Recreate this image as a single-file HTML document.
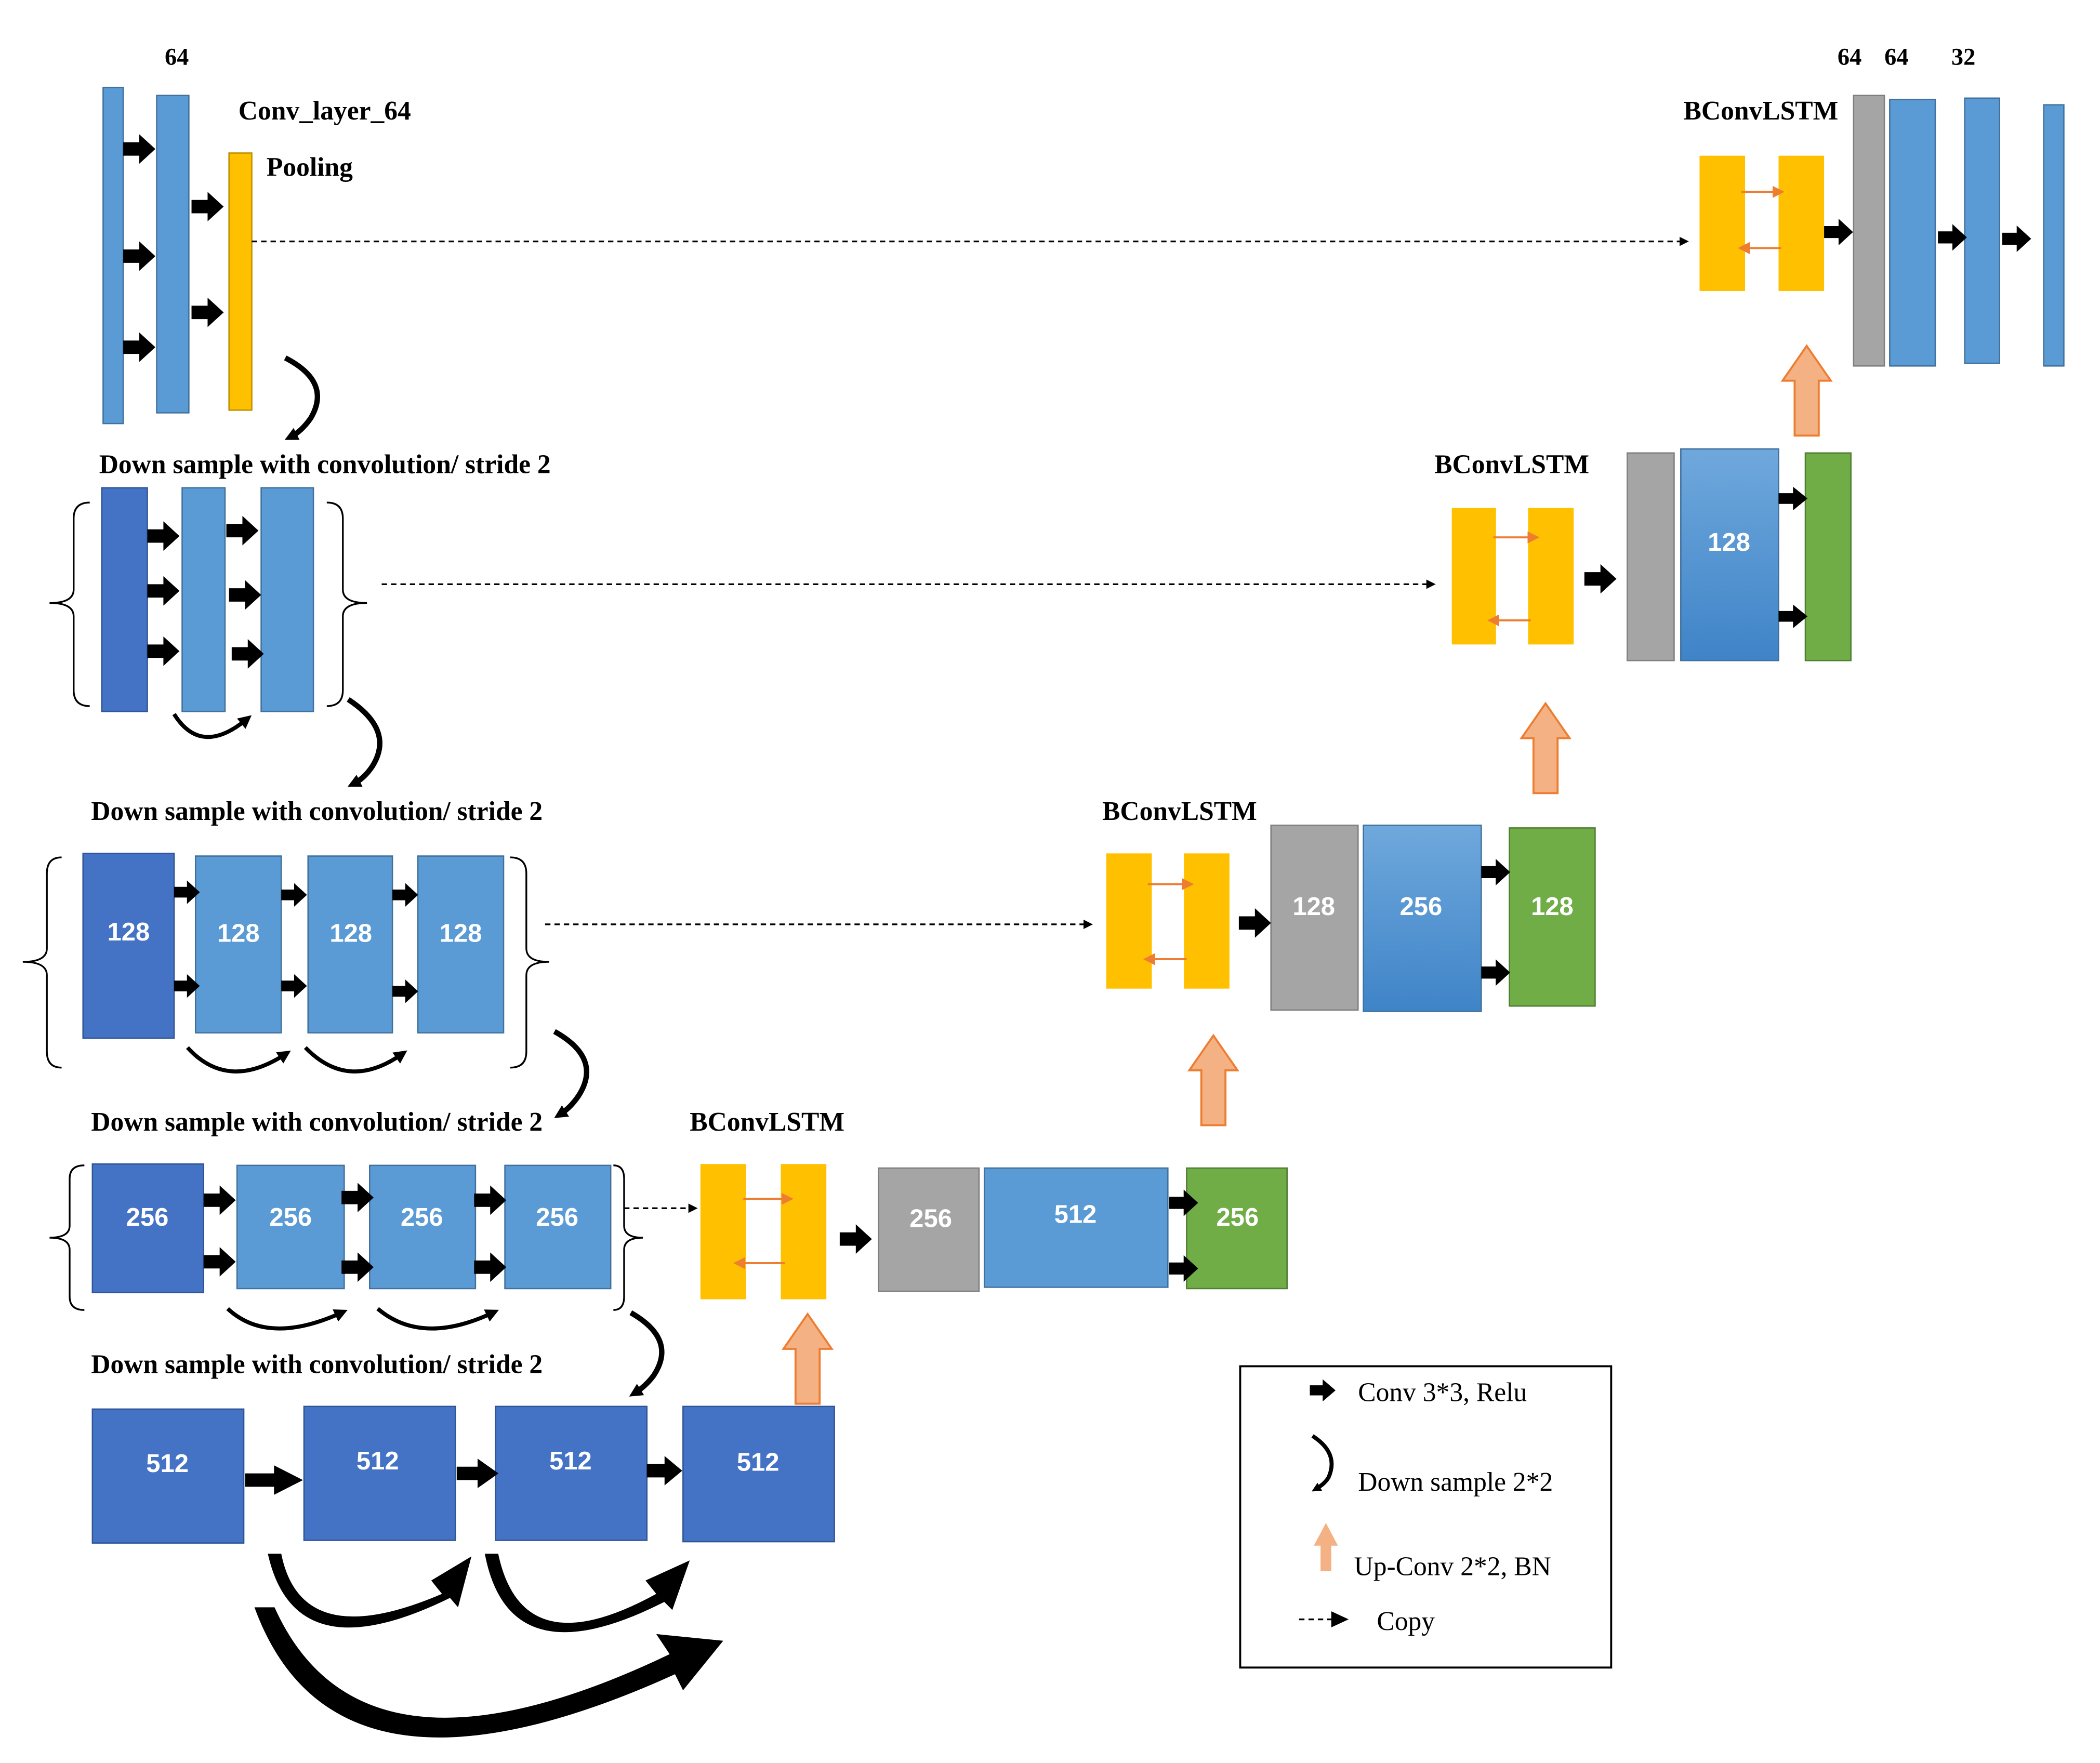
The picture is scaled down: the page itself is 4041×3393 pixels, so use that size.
<!DOCTYPE html>
<html><head><meta charset="utf-8"><style>html,body{margin:0;padding:0;background:#fff}svg{display:block}</style></head>
<body>
<svg width="4041" height="3393" viewBox="0 0 1568 1316" xmlns="http://www.w3.org/2000/svg" font-family="Liberation Serif, serif">
<defs>
<path id="ar" d="M0,-5 H12 V-11 L24,0 L12,11 V5 H0 Z" fill="#000"/>
<path id="up" d="M-9,67 V26 H-18 L0,0 L18,26 H9 V67 Z" fill="#F4B183" stroke="#ED7D31" stroke-width="1.5"/>
<marker id="mh" markerUnits="userSpaceOnUse" markerWidth="10" markerHeight="10" refX="5" refY="5" orient="auto"><path d="M0,0 L10,5 L0,10 Z" fill="#000"/></marker>
<marker id="ms" markerUnits="userSpaceOnUse" markerWidth="7" markerHeight="7" refX="4" refY="3.5" orient="auto"><path d="M0,0 L7,3.5 L0,7 Z" fill="#000"/></marker>
<marker id="mo" markerWidth="6" markerHeight="6" refX="3" refY="3" orient="auto"><path d="M0,0 L6,3 L0,6 Z" fill="#ED7D31"/></marker>
<linearGradient id="bg" x1="0" y1="0" x2="0" y2="1"><stop offset="0" stop-color="#6FA8DC"/><stop offset="1" stop-color="#3F84C8"/></linearGradient>
</defs>
<rect width="1568" height="1316" fill="#fff"/>
<g font-weight="bold" font-size="20" fill="#000">
<text x="123" y="48" font-size="18">64</text>
<text x="178" y="89">Conv_layer_64</text>
<text x="199" y="131">Pooling</text>
<text x="1257" y="89">BConvLSTM</text>
<text x="1372" y="48" font-size="18">64</text><text x="1407" y="48" font-size="18">64</text><text x="1457" y="48" font-size="18">32</text>
<text x="74" y="353">Down sample with convolution/ stride 2</text>
<text x="1071" y="353">BConvLSTM</text>
<text x="68" y="612">Down sample with convolution/ stride 2</text>
<text x="823" y="612">BConvLSTM</text>
<text x="68" y="844">Down sample with convolution/ stride 2</text>
<text x="515" y="844">BConvLSTM</text>
<text x="68" y="1025">Down sample with convolution/ stride 2</text>
</g>
<g stroke="#41719C" stroke-width="1">
<rect x="77" y="65" width="15" height="251" fill="#5B9BD5"/>
<rect x="117" y="71" width="24" height="237" fill="#5B9BD5"/>
<rect x="171" y="114" width="17" height="192" fill="#FFC000" stroke="#BF9000"/>
<rect x="1269" y="116" width="34" height="101" fill="#FFC000" stroke="none"/>
<rect x="1328" y="116" width="34" height="101" fill="#FFC000" stroke="none"/>
<rect x="1384" y="71" width="23" height="202" fill="#A5A5A5" stroke="#7F7F7F"/>
<rect x="1411" y="74" width="34" height="199" fill="#5B9BD5"/>
<rect x="1467" y="73" width="26" height="198" fill="#5B9BD5"/>
<rect x="1526" y="78" width="15" height="195" fill="#5B9BD5"/>
<rect x="76" y="364" width="34" height="167" fill="#4472C4" stroke="#2F5597"/>
<rect x="136" y="364" width="32" height="167" fill="#5B9BD5"/>
<rect x="195" y="364" width="39" height="167" fill="#5B9BD5"/>
<rect x="1084" y="379" width="33" height="102" fill="#FFC000" stroke="none"/>
<rect x="1141" y="379" width="34" height="102" fill="#FFC000" stroke="none"/>
<rect x="1215" y="338" width="35" height="155" fill="#A5A5A5" stroke="#7F7F7F"/>
<rect x="1255" y="335" width="73" height="158" fill="url(#bg)"/>
<rect x="1348" y="338" width="34" height="155" fill="#70AD47" stroke="#507E32"/>
<rect x="62" y="637" width="68" height="138" fill="#4472C4" stroke="#2F5597"/>
<rect x="146" y="639" width="64" height="132" fill="#5B9BD5"/>
<rect x="230" y="639" width="63" height="132" fill="#5B9BD5"/>
<rect x="312" y="639" width="64" height="132" fill="#5B9BD5"/>
<rect x="826" y="637" width="34" height="101" fill="#FFC000" stroke="none"/>
<rect x="884" y="637" width="34" height="101" fill="#FFC000" stroke="none"/>
<rect x="949" y="616" width="65" height="138" fill="#A5A5A5" stroke="#7F7F7F"/>
<rect x="1018" y="616" width="88" height="139" fill="url(#bg)"/>
<rect x="1127" y="618" width="64" height="133" fill="#70AD47" stroke="#507E32"/>
<rect x="69" y="869" width="83" height="96" fill="#4472C4" stroke="#2F5597"/>
<rect x="177" y="870" width="80" height="92" fill="#5B9BD5"/>
<rect x="276" y="870" width="79" height="92" fill="#5B9BD5"/>
<rect x="377" y="870" width="79" height="92" fill="#5B9BD5"/>
<rect x="523" y="869" width="34" height="101" fill="#FFC000" stroke="none"/>
<rect x="583" y="869" width="34" height="101" fill="#FFC000" stroke="none"/>
<rect x="656" y="872" width="75" height="92" fill="#A5A5A5" stroke="#7F7F7F"/>
<rect x="735" y="872" width="137" height="89" fill="#5B9BD5"/>
<rect x="886" y="872" width="75" height="90" fill="#70AD47" stroke="#507E32"/>
<rect x="69" y="1052" width="113" height="100" fill="#4472C4" stroke="#2F5597"/>
<rect x="227" y="1050" width="113" height="100" fill="#4472C4" stroke="#2F5597"/>
<rect x="370" y="1050" width="113" height="100" fill="#4472C4" stroke="#2F5597"/>
<rect x="510" y="1050" width="113" height="101" fill="#4472C4" stroke="#2F5597"/>
</g>
<g font-family="Liberation Sans, sans-serif" font-weight="bold" font-size="19" fill="#fff" text-anchor="middle">
<text x="1291" y="411">128</text>
<text x="96" y="702">128</text><text x="178" y="703">128</text><text x="262" y="703">128</text><text x="344" y="703">128</text>
<text x="981" y="683">128</text><text x="1061" y="683">256</text><text x="1159" y="683">128</text>
<text x="110" y="915">256</text><text x="217" y="915">256</text><text x="315" y="915">256</text><text x="416" y="915">256</text>
<text x="695" y="916">256</text><text x="803" y="913">512</text><text x="924" y="915">256</text>
<text x="125" y="1099">512</text><text x="282" y="1097">512</text><text x="426" y="1097">512</text><text x="566" y="1098">512</text>
</g>
<use href="#ar" transform="translate(92,111)"/><use href="#ar" transform="translate(92,191)"/><use href="#ar" transform="translate(92,259)"/>
<use href="#ar" transform="translate(143,154)"/><use href="#ar" transform="translate(143,233)"/>
<use href="#ar" transform="translate(1362,173) scale(0.9,0.9)"/>
<use href="#ar" transform="translate(1447,177) scale(0.9,0.9)"/><use href="#ar" transform="translate(1495,178) scale(0.9,0.9)"/>
<use href="#ar" transform="translate(110,400)"/><use href="#ar" transform="translate(110,441)"/><use href="#ar" transform="translate(110,486)"/>
<use href="#ar" transform="translate(169,396)"/><use href="#ar" transform="translate(171,444)"/><use href="#ar" transform="translate(173,488)"/>
<use href="#ar" transform="translate(1183,432)"/>
<use href="#ar" transform="translate(1328,372) scale(0.9,0.8)"/><use href="#ar" transform="translate(1328,460) scale(0.9,0.8)"/>
<use href="#ar" transform="translate(130,666) scale(0.8,0.8)"/><use href="#ar" transform="translate(130,736) scale(0.8,0.8)"/>
<use href="#ar" transform="translate(210,668) scale(0.8,0.8)"/><use href="#ar" transform="translate(210,736) scale(0.8,0.8)"/>
<use href="#ar" transform="translate(293,668) scale(0.8,0.8)"/><use href="#ar" transform="translate(293,740) scale(0.8,0.8)"/>
<use href="#ar" transform="translate(925,689)"/>
<use href="#ar" transform="translate(1106,651) scale(0.9,0.9)"/><use href="#ar" transform="translate(1106,726) scale(0.9,0.9)"/>
<use href="#ar" transform="translate(152,896)"/><use href="#ar" transform="translate(152,942)"/>
<use href="#ar" transform="translate(255,894)"/><use href="#ar" transform="translate(255,946)"/>
<use href="#ar" transform="translate(354,896)"/><use href="#ar" transform="translate(354,946)"/>
<use href="#ar" transform="translate(627,925)"/>
<use href="#ar" transform="translate(873,898) scale(0.9,0.9)"/><use href="#ar" transform="translate(873,947) scale(0.9,0.9)"/>
<use href="#ar" transform="translate(183,1105) scale(1.8,1)"/>
<use href="#ar" transform="translate(341,1100) scale(1.3,1)"/>
<use href="#ar" transform="translate(483,1098) scale(1.1,1)"/>
<use href="#up" transform="translate(1349,258)"/>
<use href="#up" transform="translate(1154,525)"/>
<use href="#up" transform="translate(906,773)"/>
<use href="#up" transform="translate(603,981)"/>
<g stroke="#ED7D31" stroke-width="1.5">
<line x1="1300" y1="143" x2="1328" y2="143" marker-end="url(#mo)"/><line x1="1330" y1="185" x2="1302" y2="185" marker-end="url(#mo)"/>
<line x1="1115" y1="401" x2="1145" y2="401" marker-end="url(#mo)"/><line x1="1143" y1="463" x2="1115" y2="463" marker-end="url(#mo)"/>
<line x1="857" y1="660" x2="887" y2="660" marker-end="url(#mo)"/><line x1="886" y1="716" x2="858" y2="716" marker-end="url(#mo)"/>
<line x1="555" y1="895" x2="588" y2="895" marker-end="url(#mo)"/><line x1="586" y1="943" x2="552" y2="943" marker-end="url(#mo)"/>
</g>
<g stroke="#000" stroke-width="1.3" stroke-dasharray="4,3" fill="none">
<line x1="188" y1="180" x2="1258" y2="180" marker-end="url(#ms)"/>
<line x1="285" y1="436" x2="1069" y2="436" marker-end="url(#ms)"/>
<line x1="407" y1="690" x2="813" y2="690" marker-end="url(#ms)"/>
<line x1="466" y1="902" x2="518" y2="902" marker-end="url(#ms)"/>
</g>
<g stroke="#000" stroke-width="1.3" fill="none">
<path d="M67,375 Q55,375 55,387 V440 Q55,450 37,450 Q55,450 55,460 V515 Q55,527 67,527"/>
<path d="M244,375 Q256,375 256,387 V440 Q256,450 274,450 Q256,450 256,460 V515 Q256,527 244,527"/>
<path d="M46,640 Q35,640 35,652 V708 Q35,718 17,718 Q35,718 35,728 V785 Q35,797 46,797"/>
<path d="M381,640 Q393,640 393,652 V708 Q393,718 410,718 Q393,718 393,728 V785 Q393,797 381,797"/>
<path d="M63,870 Q52,870 52,880 V915 Q52,924 37,924 Q52,924 52,933 V968 Q52,978 63,978"/>
<path d="M458,870 Q466,870 466,880 V915 Q466,924 480,924 Q466,924 466,933 V968 Q466,978 458,978"/>
</g>
<g stroke="#000" stroke-width="4" fill="none">
<path d="M213,267 Q248,285 232,312 Q225,322 217,326" marker-end="url(#mh)"/>
<path d="M260,522 Q295,545 278,572 Q272,581 264,585" marker-end="url(#mh)"/>
<path d="M414,770 Q450,790 432,818 Q426,827 418,832" marker-end="url(#mh)"/>
<path d="M471,980 Q506,1000 488,1027 Q482,1035 474,1040" marker-end="url(#mh)"/>
<path d="M130,533 Q150,565 184,537" stroke-width="3" marker-end="url(#mh)"/>
<path d="M140,782 Q170,815 213,787" stroke-width="3" marker-end="url(#mh)"/>
<path d="M228,782 Q260,815 300,787" stroke-width="3" marker-end="url(#mh)"/>
<path d="M170,977 Q200,1005 255,980" stroke-width="3" marker-end="url(#mh)"/>
<path d="M282,977 Q315,1005 368,980" stroke-width="3" marker-end="url(#mh)"/>
</g>
<g fill="#000">
<path d="M210,1160 Q225,1235 330,1190 L322,1180 L352,1162 L342,1200 L336,1193 Q220,1250 200,1160 Z"/>
<path d="M372,1160 Q390,1245 490,1190 L482,1180 L515,1165 L502,1202 L496,1196 Q380,1255 362,1160 Z"/>
<path d="M205,1200 Q270,1345 500,1235 L490,1220 L540,1225 L510,1262 L504,1250 Q250,1365 190,1200 Z"/>
</g>
<rect x="926" y="1020" width="277" height="225" fill="none" stroke="#000" stroke-width="1.5"/>
<use href="#ar" transform="translate(978,1038) scale(0.8,0.75)"/>
<path d="M980,1072 Q1000,1085 992,1103 Q989,1108 982,1112" stroke="#000" stroke-width="3" fill="none" marker-end="url(#ms)"/>
<path d="M986,1173 V1154 H981 L990,1137 L999,1154 H994 V1173 Z" fill="#F4B183"/>
<line x1="970" y1="1209" x2="996" y2="1209" stroke="#000" stroke-width="1.3" stroke-dasharray="4,3"/>
<path d="M994,1203 L1007,1209 L994,1215 Z" fill="#000"/>
<g font-size="20" fill="#000">
<text x="1014" y="1046">Conv 3*3, Relu</text>
<text x="1014" y="1113">Down sample 2*2</text>
<text x="1011" y="1176">Up-Conv 2*2, BN</text>
<text x="1028" y="1217">Copy</text>
</g>
</svg>
</body></html>
